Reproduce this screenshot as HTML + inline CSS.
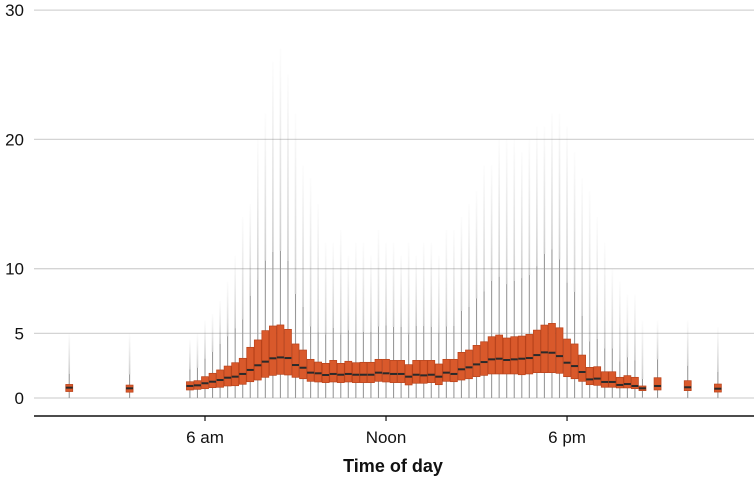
<!DOCTYPE html>
<html><head><meta charset="utf-8"><style>
html,body{margin:0;padding:0;background:#fff;}
svg{display:block;font-family:"Liberation Sans",sans-serif;}
</style></head><body>
<svg id="chart" width="754" height="493" viewBox="0 0 754 493" xmlns="http://www.w3.org/2000/svg">
<defs><linearGradient id="streak" x1="0" y1="1" x2="0" y2="0"><stop offset="0" stop-color="#555" stop-opacity="0.3"/><stop offset="1" stop-color="#888" stop-opacity="0.02"/></linearGradient></defs>
<g id="grid"></g>
<g id="marks"></g>
<g id="axes"></g>
</svg>
<script>
// times in hours
const times = [];
for (let i = 0; i < 61; i++) times.push(5.5 + i * 0.25);
const q3 = [1.26,1.34,1.65,1.91,2.17,2.47,2.73,3.07,3.92,4.49,5.21,5.57,5.65,5.31,4.18,3.71,2.99,2.78,2.68,2.91,2.68,2.84,2.73,2.76,2.76,2.99,2.99,2.91,2.91,2.58,2.91,2.91,2.91,2.63,2.99,2.99,3.53,3.71,4.07,4.35,4.74,4.87,4.64,4.74,4.79,4.92,5.25,5.64,5.77,5.43,4.56,4.18,3.32,2.37,2.42,2.03,2.03,1.60,1.73,1.60,0.93];
const med = [0.93,0.98,1.14,1.26,1.39,1.57,1.65,1.86,2.17,2.53,2.81,3.07,3.14,3.09,2.55,2.34,1.96,1.91,1.78,1.86,1.80,1.86,1.80,1.80,1.80,1.96,1.91,1.86,1.86,1.65,1.80,1.75,1.80,1.65,1.96,1.86,2.22,2.37,2.60,2.78,2.99,3.04,2.94,2.99,3.04,3.09,3.32,3.53,3.50,3.24,2.73,2.47,2.01,1.44,1.50,1.24,1.24,1.01,1.08,0.93,0.75];
const q1 = [0.62,0.67,0.72,0.80,0.83,0.93,0.95,1.06,1.26,1.39,1.60,1.75,1.83,1.78,1.60,1.49,1.29,1.24,1.19,1.24,1.19,1.24,1.19,1.19,1.19,1.29,1.24,1.19,1.19,1.01,1.14,1.14,1.19,1.03,1.29,1.26,1.39,1.49,1.65,1.75,1.86,1.86,1.86,1.86,1.80,1.86,1.96,1.96,1.96,1.91,1.65,1.49,1.29,1.03,0.98,0.83,0.83,0.78,0.78,0.72,0.57];
const maxv = [4.5,5,6,6.5,7.5,9,11,14,15,20,22,26,27,25,22,18,17,15,12,12,13,11,12,12,11,13,12,12,11,12,11,12,12,11,13,13,14,15,16,18,18,20,20,20,19,20,21,21,22,22,21,19,17,16,14,12,10,9,8,8,6];
const isoTimes = [1.5,3.5,21,22,23];
const isoQ3 = [1.05,1.0,1.57,1.34,1.08];
const isoMed = [0.8,0.75,0.93,0.83,0.72];
const isoQ1 = [0.5,0.45,0.62,0.57,0.46];
const isoMax = [5,5,6,6,5.5];
const yTicks = [0,5,10,20,30];
const xTicks = [6,12,18];
const xTickLabels = ["6 am","Noon","6 pm"];

const NS = "http://www.w3.org/2000/svg";
const xs = h => 205 + (h - 6) * 30.17;
const ys = v => 398 - v * 12.93;
function mk(tag, attrs, parent) {
  const e = document.createElementNS(NS, tag);
  for (const k in attrs) e.setAttribute(k, attrs[k]);
  parent.appendChild(e); return e;
}
const grid = document.getElementById('grid');
const marks = document.getElementById('marks');
const axes = document.getElementById('axes');
yTicks.forEach(t => {
  const l = mk('line', {x1:34, x2:754, y1:ys(t), y2:ys(t), stroke:'#d4d4d4', 'stroke-width':1.3}, grid);
  
  
  const tx = mk('text', {x:24, y:ys(t)+6, 'text-anchor':'end', 'font-size':17, fill:'#111'}, axes);
  tx.textContent = t;
  
  
});
function drawBox(t, a, m, b, mx, i) {
  const x = xs(t), w = 7;
  const iqr = a - b;
  const wt = Math.min(mx, a + 1.5 * iqr), wb = Math.max(0, b - 1.5 * iqr);
  const s = mk('rect', {x:x-0.8, y:ys(mx), width:1.6, height:ys(wt)-ys(mx), fill:'url(#streak)'}, marks);
  
  
  const wl = mk('line', {x1:x, x2:x, y1:ys(wt), y2:ys(wb), stroke:'#999', 'stroke-width':1.1}, marks);
  
  
  const r = mk('rect', {x:x-w/2, y:ys(a), width:w, height:ys(b)-ys(a), fill:'#d9592b', stroke:'#b8421a', 'stroke-width':0.7}, marks);
  
  
  const ml = mk('line', {x1:x-w/2, x2:x+w/2, y1:ys(m), y2:ys(m), stroke:'#2a2a2a', 'stroke-width':2}, marks);
  
  
}
times.forEach((t, i) => drawBox(t, q3[i], med[i], q1[i], maxv[i], i));
isoTimes.forEach((t, i) => drawBox(t, isoQ3[i], isoMed[i], isoQ1[i], isoMax[i], 'iso-' + i));
const ax = mk('line', {x1:34, x2:754, y1:416, y2:416, stroke:'#111', 'stroke-width':1.6}, axes);


xTicks.forEach((t, i) => {
  const tk = mk('line', {x1:xs(t), x2:xs(t), y1:416, y2:421, stroke:'#111', 'stroke-width':1.2}, axes);
  
  
  const tx = mk('text', {x:xs(t), y:443, 'text-anchor':'middle', 'font-size':17, fill:'#111'}, axes);
  tx.textContent = xTickLabels[i];
  
  
});
const title = mk('text', {x:393, y:472, 'text-anchor':'middle', 'font-size':18, 'font-weight':'bold', fill:'#111'}, axes);
title.textContent = 'Time of day';


</script>
</body></html>
